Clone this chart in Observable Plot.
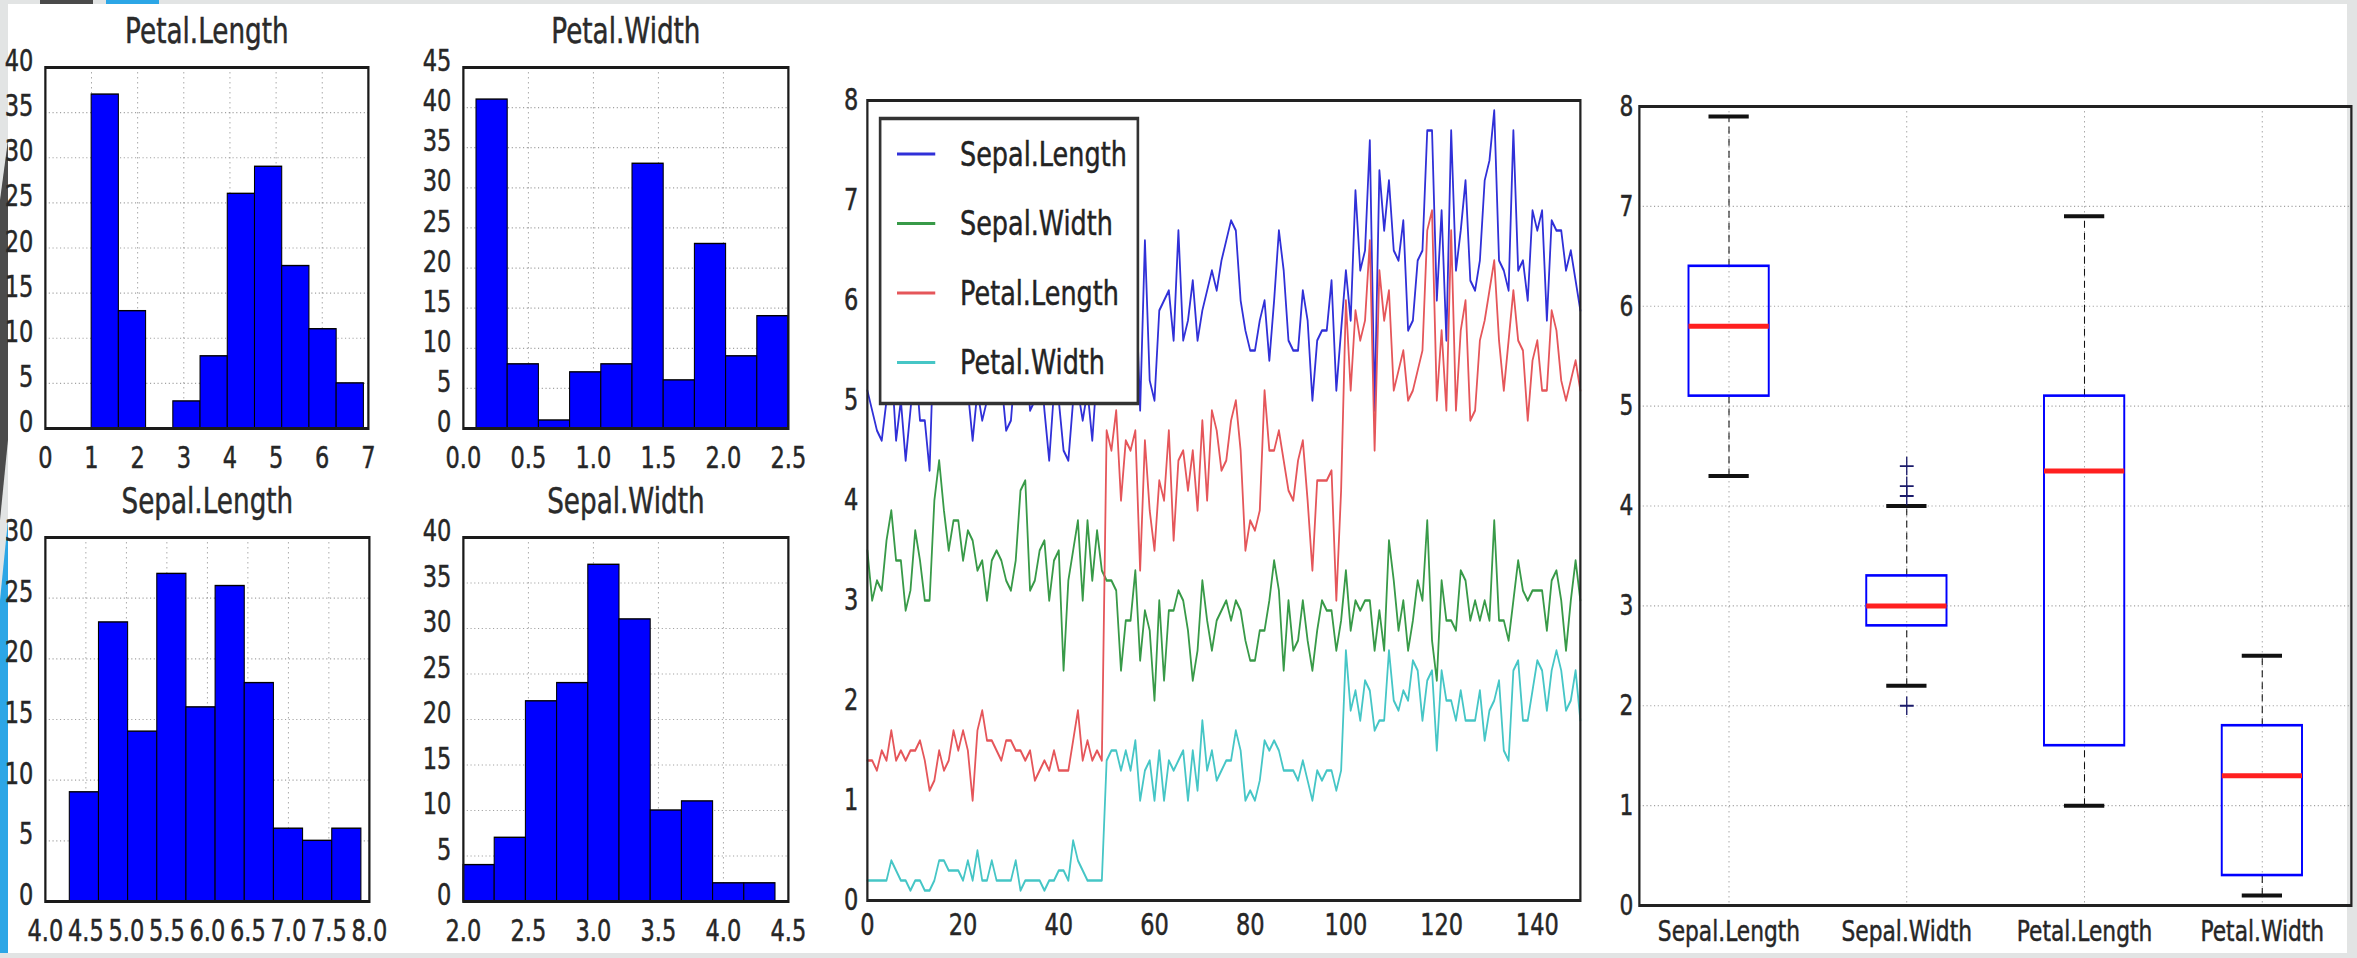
<!DOCTYPE html>
<html>
<head>
<meta charset="utf-8">
<script src="https://cdn.jsdelivr.net/npm/d3@7"></script>
<script src="https://cdn.jsdelivr.net/npm/@observablehq/plot@0.6"></script>
<style>
html, body { margin: 0; padding: 0; }
body { width: 2357px; height: 958px; position: relative; overflow: hidden; background: #e2e4e4; font-family: "DejaVu Sans", sans-serif; }
#page { position: absolute; left: 8px; top: 4px; width: 2339px; height: 949px; background: #ffffff; }
.blk { position: absolute; }
svg text { stroke: #2a2a2a; stroke-width: 0.5px; }
</style>
</head>
<body>
<div id="page"></div>
<div class="blk" style="left:40px;top:0;width:53px;height:4px;background:#4a4a4a"></div>
<div class="blk" style="left:106px;top:0;width:53px;height:4px;background:#2ca6e6"></div>
<svg class="blk" style="left:0;top:0" width="9" height="958">
  <polygon points="0,200 8,140 8,440 0,520" fill="#4b4b4b"></polygon>
  <polygon points="0,600 8,520 8,953 0,953" fill="#2ca6e6"></polygon>
</svg>
<script>
// ---------------- DATA ----------------
// Iris measurements in row order (index 0..149)
const sepalLength = [5.1,4.9,4.7,4.6,5.0,5.4,4.6,5.0,4.4,4.9,5.4,4.8,4.8,4.3,5.8,5.7,5.4,5.1,5.7,5.1,
  5.4,5.1,4.6,5.1,4.8,5.0,5.0,5.2,5.2,4.7,4.8,5.4,5.2,5.5,4.9,5.0,5.5,4.9,4.4,5.1,
  5.0,4.5,4.4,5.0,5.1,4.8,5.1,4.6,5.3,5.0,7.0,6.4,6.9,5.5,6.5,5.7,6.3,4.9,6.6,5.2,
  5.0,5.9,6.0,6.1,5.6,6.7,5.6,5.8,6.2,5.6,5.9,6.1,6.3,6.1,6.4,6.6,6.8,6.7,6.0,5.7,
  5.5,5.5,5.8,6.0,5.4,6.0,6.7,6.3,5.6,5.5,5.5,6.1,5.8,5.0,5.6,5.7,5.7,6.2,5.1,5.7,
  6.3,5.8,7.1,6.3,6.5,7.6,4.9,7.3,6.7,7.2,6.5,6.4,6.8,5.7,5.8,6.4,6.5,7.7,7.7,6.0,
  6.9,5.6,7.7,6.3,6.7,7.2,6.2,6.1,6.4,7.2,7.4,7.9,6.4,6.3,6.1,7.7,6.3,6.4,6.0,6.9,
  6.7,6.9,5.8,6.8,6.7,6.7,6.3,6.5,6.2,5.9];
const sepalWidth = [3.5,3.0,3.2,3.1,3.6,3.9,3.4,3.4,2.9,3.1,3.7,3.4,3.0,3.0,4.0,4.4,3.9,3.5,3.8,3.8,
  3.4,3.7,3.6,3.3,3.4,3.0,3.4,3.5,3.4,3.2,3.1,3.4,4.1,4.2,3.1,3.2,3.5,3.6,3.0,3.4,
  3.5,2.3,3.2,3.5,3.8,3.0,3.8,3.2,3.7,3.3,3.2,3.2,3.1,2.3,2.8,2.8,3.3,2.4,2.9,2.7,
  2.0,3.0,2.2,2.9,2.9,3.1,3.0,2.7,2.2,2.5,3.2,2.8,2.5,2.8,2.9,3.0,2.8,3.0,2.9,2.6,
  2.4,2.4,2.7,2.7,3.0,3.4,3.1,2.3,3.0,2.5,2.6,3.0,2.6,2.3,2.7,3.0,2.9,2.9,2.5,2.8,
  3.3,2.7,3.0,2.9,3.0,3.0,2.5,2.9,2.5,3.6,3.2,2.7,3.0,2.5,2.8,3.2,3.0,3.8,2.6,2.2,
  3.2,2.8,2.8,2.7,3.3,3.2,2.8,3.0,2.8,3.0,2.8,3.8,2.8,2.8,2.6,3.0,3.4,3.1,3.0,3.1,
  3.1,3.1,2.7,3.2,3.3,3.0,2.5,3.0,3.4,3.0];
const petalLength = [1.4,1.4,1.3,1.5,1.4,1.7,1.4,1.5,1.4,1.5,1.5,1.6,1.4,1.1,1.2,1.5,1.3,1.4,1.7,1.5,
  1.7,1.5,1.0,1.7,1.9,1.6,1.6,1.5,1.4,1.6,1.6,1.5,1.5,1.4,1.5,1.2,1.3,1.4,1.3,1.5,
  1.3,1.3,1.3,1.6,1.9,1.4,1.6,1.4,1.5,1.4,4.7,4.5,4.9,4.0,4.6,4.5,4.7,3.3,4.6,3.9,
  3.5,4.2,4.0,4.7,3.6,4.4,4.5,4.1,4.5,3.9,4.8,4.0,4.9,4.7,4.3,4.4,4.8,5.0,4.5,3.5,
  3.8,3.7,3.9,5.1,4.5,4.5,4.7,4.4,4.1,4.0,4.4,4.6,4.0,3.3,4.2,4.2,4.2,4.3,3.0,4.1,
  6.0,5.1,5.9,5.6,5.8,6.6,4.5,6.3,5.8,6.1,5.1,5.3,5.5,5.0,5.1,5.3,5.5,6.7,6.9,5.0,
  5.7,4.9,6.7,4.9,5.7,6.0,4.8,4.9,5.6,5.8,6.1,6.4,5.6,5.1,5.6,6.1,5.6,5.5,4.8,5.4,
  5.6,5.1,5.1,5.9,5.7,5.2,5.0,5.2,5.4,5.1];
const petalWidth = [0.2,0.2,0.2,0.2,0.2,0.4,0.3,0.2,0.2,0.1,0.2,0.2,0.1,0.1,0.2,0.4,0.4,0.3,0.3,0.3,
  0.2,0.4,0.2,0.5,0.2,0.2,0.4,0.2,0.2,0.2,0.2,0.4,0.1,0.2,0.2,0.2,0.2,0.1,0.2,0.2,
  0.3,0.3,0.2,0.6,0.4,0.3,0.2,0.2,0.2,0.2,1.4,1.5,1.5,1.3,1.5,1.3,1.6,1.0,1.3,1.4,
  1.0,1.5,1.0,1.4,1.3,1.4,1.5,1.0,1.5,1.1,1.8,1.3,1.5,1.2,1.3,1.4,1.4,1.7,1.5,1.0,
  1.1,1.0,1.2,1.6,1.5,1.6,1.5,1.3,1.3,1.3,1.2,1.4,1.2,1.0,1.3,1.2,1.3,1.3,1.1,1.3,
  2.5,1.9,2.1,1.8,2.2,2.1,1.7,1.8,1.8,2.5,2.0,1.9,2.1,2.0,2.4,2.3,1.8,2.2,2.3,1.5,
  2.3,2.0,2.0,1.8,2.1,1.8,1.8,1.8,2.1,1.6,1.9,2.0,2.2,1.5,1.4,2.3,2.4,1.8,1.8,2.1,
  2.4,2.3,1.9,2.3,2.5,2.3,1.9,2.0,2.3,1.8];

// Histograms (10 bins each)
const plEdges = [1.0,1.59,2.18,2.77,3.36,3.95,4.54,5.13,5.72,6.31,6.9];
const plCounts = [37,13,0,3,8,26,29,18,11,5];
const pwEdges = [0.1,0.34,0.58,0.82,1.06,1.3,1.54,1.78,2.02,2.26,2.5];
const pwCounts = [41,8,1,7,8,33,6,23,9,14];
const slEdges = [4.3,4.66,5.02,5.38,5.74,6.1,6.46,6.82,7.18,7.54,7.9];
const slCounts = [9,23,14,27,16,26,18,6,5,6];
const swEdges = [2.0,2.24,2.48,2.72,2.96,3.2,3.44,3.68,3.92,4.16,4.4];
const swCounts = [4,7,22,24,37,31,10,11,2,2];

// Tick values
const plXTicks = [0,1,2,3,4,5,6,7];
const plYTicks = [0,5,10,15,20,25,30,35,40];
const pwXTicks = [0.0,0.5,1.0,1.5,2.0,2.5];
const pwYTicks = [0,5,10,15,20,25,30,35,40,45];
const slXTicks = [4.0,4.5,5.0,5.5,6.0,6.5,7.0,7.5,8.0];
const slYTicks = [0,5,10,15,20,25,30];
const swXTicks = [2.0,2.5,3.0,3.5,4.0,4.5];
const swYTicks = [0,5,10,15,20,25,30,35,40];
const lineXTicks = [0,20,40,60,80,100,120,140];
const lineYTicks = [0,1,2,3,4,5,6,7,8];
const boxYTicks = [0,1,2,3,4,5,6,7,8];

// Series names / colours
const seriesNames = ["Sepal.Length","Sepal.Width","Petal.Length","Petal.Width"];
const seriesColors = ["#3030d8","#389a48","#e5565a","#46c6c6"];

// Box plot statistics
const boxCats = ["Sepal.Length","Sepal.Width","Petal.Length","Petal.Width"];
const boxQ1 = [5.1,2.8,1.6,0.3];
const boxMedian = [5.8,3.0,4.35,1.3];
const boxQ3 = [6.4,3.3,5.1,1.8];
const boxLow = [4.3,2.2,1.0,0.1];
const boxHigh = [7.9,4.0,6.9,2.5];
const outlierCat = ["Sepal.Width","Sepal.Width","Sepal.Width","Sepal.Width"];
const outlierVal = [4.4,4.1,4.2,2.0];

// ---------------- LAYOUT ----------------
const K = 0.75; // horizontal compression of the original figure
const FONT = "DejaVu Sans";
const TXT = "#262626";
const gridStyle = {stroke: "#8a8a8a", strokeDasharray: "1.5,3.5", strokeWidth: 1.2, strokeOpacity: 0.8};

function mount(svg, left, top, w, h) {
  svg.setAttribute("width", w);
  svg.setAttribute("height", h);
  svg.setAttribute("viewBox", `0 0 ${w / K} ${h}`);
  svg.setAttribute("preserveAspectRatio", "none");
  Object.assign(svg.style, {
    position: "absolute", left: left + "px", top: top + "px",
    width: w + "px", height: h + "px", maxWidth: "none",
    background: "transparent", overflow: "visible"
  });
  document.body.appendChild(svg);
}

function chart({left, top, right, bottom, frame, fontSize, ...opts}) {
  const [fx0, fx1, fy0, fy1] = frame;
  const w = right - left, h = bottom - top;
  const svg = Plot.plot({
    width: w / K, height: h,
    marginLeft: (fx0 - left) / K, marginRight: (right - fx1) / K,
    marginTop: fy0 - top, marginBottom: bottom - fy1,
    style: {fontFamily: FONT, fontSize: fontSize + "px", color: TXT, background: "transparent", overflow: "visible"},
    ...opts
  });
  mount(svg, left, top, w, h);
}

function hist({title, edges, counts, xTicks, xFmt, yTicks, xDomain, yMax, ...pos}) {
  const bins = counts.map((c, i) => ({x1: edges[i], x2: edges[i + 1], c}));
  chart({
    ...pos,
    fontSize: 30,
    x: {domain: xDomain, label: null},
    y: {domain: [0, yMax], label: null},
    marks: [
      Plot.ruleX(xTicks, {x: d => d, ...gridStyle}),
      Plot.ruleY(yTicks, {y: d => d, ...gridStyle}),
      Plot.rect(bins, {x1: "x1", x2: "x2", y1: 0, y2: "c", fill: "#0000ff", stroke: "#000", strokeWidth: 1.4}),
      Plot.frame({stroke: "#1a1a1a", strokeWidth: 3}),
      Plot.axisX(xTicks, {tickSize: 0, tickPadding: 18, tickFormat: xFmt, label: null}),
      Plot.axisY(yTicks, {tickSize: 0, tickPadding: 12 / K, dy: -6, label: null}),
      Plot.text([title], {text: d => d, frameAnchor: "top", lineAnchor: "middle", dy: -36, fontSize: 35, fill: "#2a2a2a"})
    ]
  });
}

const f1 = d => d.toFixed(1);

hist({title: "Petal.Length", edges: plEdges, counts: plCounts, xTicks: plXTicks, xFmt: d => String(d),
  yTicks: plYTicks, xDomain: [0, 7], yMax: 40,
  left: 8, top: 4, right: 415, bottom: 475, frame: [45, 368, 67, 428]});
hist({title: "Petal.Width", edges: pwEdges, counts: pwCounts, xTicks: pwXTicks, xFmt: f1,
  yTicks: pwYTicks, xDomain: [0, 2.5], yMax: 45,
  left: 420, top: 4, right: 830, bottom: 475, frame: [463, 788, 67, 428]});
hist({title: "Sepal.Length", edges: slEdges, counts: slCounts, xTicks: slXTicks, xFmt: f1,
  yTicks: slYTicks, xDomain: [4, 8], yMax: 30,
  left: 8, top: 475, right: 415, bottom: 953, frame: [45, 369, 537, 901]});
hist({title: "Sepal.Width", edges: swEdges, counts: swCounts, xTicks: swXTicks, xFmt: f1,
  yTicks: swYTicks, xDomain: [2, 4.5], yMax: 40,
  left: 420, top: 475, right: 830, bottom: 953, frame: [463, 788, 537, 901]});

// ---------------- LINE CHART ----------------
const lineSeries = [sepalLength, sepalWidth, petalLength, petalWidth];
chart({
  left: 830, top: 4, right: 1600, bottom: 953, frame: [867, 1580, 100, 900],
  fontSize: 30,
  x: {domain: [0, 149], ticks: lineXTicks, tickSize: 0, tickPadding: 13, label: null},
  y: {domain: [0, 8], ticks: lineYTicks, tickSize: 0, tickPadding: 9 / K, label: null},
  marks: [
    ...lineSeries.map((s, k) => Plot.line(s, {x: (d, i) => i, y: d => d, stroke: seriesColors[k], strokeWidth: 2.4})),
    Plot.frame({stroke: "#222", strokeWidth: 3})
  ]
});

// Legend (drawn over the line chart)
(function legend() {
  const w = 260, h = 288, left = 879, top = 117;
  const svg = d3.create("svg")
    .attr("width", w).attr("height", h)
    .attr("viewBox", `0 0 ${w / K} ${h}`)
    .attr("preserveAspectRatio", "none")
    .style("position", "absolute").style("left", left + "px").style("top", top + "px")
    .style("overflow", "visible");
  svg.append("rect").attr("x", 1.5).attr("y", 1.5).attr("width", w / K - 3).attr("height", h - 3)
    .attr("fill", "#fff").attr("stroke", "#333").attr("stroke-width", 3.5);
  seriesNames.forEach((name, i) => {
    const y = 37 + i * 69.5;
    svg.append("line").attr("x1", 24).attr("x2", 75).attr("y1", y).attr("y2", y)
      .attr("stroke", seriesColors[i]).attr("stroke-width", 3);
    svg.append("text").attr("x", 108).attr("y", y).attr("dy", "0.35em")
      .attr("font-family", FONT).attr("font-size", 34).attr("fill", "#222").text(name);
  });
  document.body.appendChild(svg.node());
})();

// ---------------- BOX PLOT ----------------
chart({
  left: 1600, top: 4, right: 2357, bottom: 958, frame: [1639, 2351, 106, 905],
  fontSize: 29,
  x: {type: "band", domain: boxCats, paddingInner: 0.55, paddingOuter: 0.275, tickSize: 0, tickPadding: 15, label: null},
  y: {domain: [0, 8], ticks: boxYTicks, tickSize: 0, tickPadding: 6 / K, label: null},
  marks: [
    Plot.ruleY(boxYTicks, {y: d => d, ...gridStyle}),
    Plot.ruleX(boxCats, {x: d => d, ...gridStyle}),
    Plot.ruleX(boxCats, {x: d => d, y1: boxQ3, y2: boxHigh, stroke: "#111", strokeWidth: 1.4, strokeDasharray: "7,5"}),
    Plot.ruleX(boxCats, {x: d => d, y1: boxLow, y2: boxQ1, stroke: "#111", strokeWidth: 1.4, strokeDasharray: "7,5"}),
    Plot.tickY(boxCats, {x: d => d, y: boxHigh, stroke: "#111", strokeWidth: 4, insetLeft: 20 / K, insetRight: 20 / K}),
    Plot.tickY(boxCats, {x: d => d, y: boxLow, stroke: "#111", strokeWidth: 4, insetLeft: 20 / K, insetRight: 20 / K}),
    Plot.barY(boxCats, {x: d => d, y1: boxQ1, y2: boxQ3, fill: "none", stroke: "#0000ff", strokeWidth: 2.6}),
    Plot.tickY(boxCats, {x: d => d, y: boxMedian, stroke: "#ff2020", strokeWidth: 5}),
    Plot.dot(outlierVal, {x: outlierCat, y: d => d, symbol: "plus", r: 6, stroke: "#1a1a6a", strokeWidth: 1.8}),
    Plot.frame({stroke: "#222", strokeWidth: 3})
  ]
});
</script>
</body>
</html>
